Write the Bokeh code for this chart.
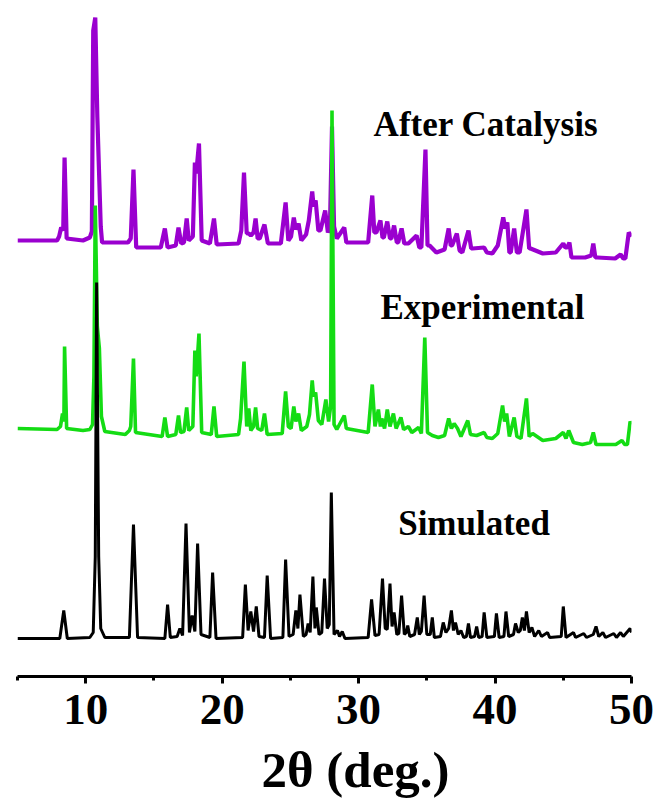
from bokeh.plotting import figure
from bokeh.models import Range1d, FixedTicker, Label, Title
from bokeh.embed import file_html
from bokeh.resources import INLINE

# ---- data (2theta in degrees, stacked intensity in a.u.) ----
sim_x = [5.0, 8.1, 8.39, 8.65, 10.3, 10.55, 10.7, 10.8, 10.95, 11.1, 11.4, 13.2, 13.5, 13.8,
         15.8, 16.0, 16.2, 16.7, 16.9, 17.1, 17.35, 17.6, 17.8, 18.0, 18.2, 18.45, 19.1, 19.3, 19.55,
         21.5, 21.7, 21.9, 22.1, 22.3, 22.5, 22.7, 23.1, 23.3, 23.55, 24.45, 24.65, 24.9,
         25.2, 25.4, 25.55, 25.7, 25.95, 26.15, 26.3, 26.45, 26.65, 26.8, 26.9, 27.1, 27.3, 27.5,
         27.7, 27.85, 28.0, 28.2, 28.45, 28.6, 28.8, 29.0, 30.7, 30.95, 31.2, 31.5, 31.75, 31.95,
         32.1, 32.3, 32.45, 32.6, 32.8, 32.95, 33.15, 33.35, 33.5, 33.6, 33.75, 34.1, 34.3, 34.45,
         34.6, 34.8, 35.0, 35.25, 35.4, 35.55, 36.0, 36.2, 36.4, 36.6, 36.8, 36.95, 37.1, 37.3,
         37.5, 37.7, 37.9, 38.05, 38.2, 38.5, 38.65, 38.8, 39.05, 39.2, 39.4, 39.95, 40.1, 40.3,
         40.65, 40.8, 41.0, 41.35, 41.5, 41.7, 41.85, 42.0, 42.15, 42.3, 42.5, 42.7, 42.9, 43.2,
         43.4, 43.85, 44.0, 44.85, 45.0, 45.2, 45.75, 45.9, 46.5, 46.7, 47.2, 47.4, 47.6, 47.9,
         48.1, 48.7, 48.9, 49.2, 49.4, 49.9, 50.0]
sim_y = [38, 38, 66, 38, 39, 44, 120, 394, 120, 48, 39, 39, 152, 39,
         38, 72, 39, 40, 48, 41, 153, 44, 61, 45, 133, 42, 39, 104, 38,
         39, 92, 46, 65, 45, 70, 40, 39, 101, 38, 39, 117, 40,
         42, 66, 48, 82, 40, 42, 53, 44, 100, 48, 69, 42, 44, 98,
         48, 52, 184, 42, 46, 40, 45, 38, 39, 77, 41, 42, 98, 48,
         47, 93, 50, 64, 42, 43, 81, 42, 44, 51, 40, 42, 59, 42,
         45, 81, 42, 42, 59, 39, 40, 54, 44, 48, 66, 46, 54, 42,
         46, 39, 40, 53, 39, 40, 50, 39, 40, 64, 39, 40, 63, 39,
         40, 65, 40, 42, 53, 44, 46, 59, 46, 65, 44, 49, 40, 46,
         40, 44, 39, 40, 70, 39, 44, 39, 43, 39, 42, 50, 40, 44,
         39, 43, 39, 44, 40, 48, 44]

exp_x = [5.0, 7.9, 8.15, 8.3, 8.4, 8.45, 8.6, 9.8, 10.3, 10.5, 10.6, 10.7, 10.85, 11.0, 11.15, 11.4,
         12.9, 13.2, 13.3, 13.5, 13.65, 15.6, 15.8, 16.0, 16.6, 16.8, 16.95, 17.2, 17.4, 17.55,
         17.85, 18.0, 18.1, 18.3, 18.5, 19.2, 19.4, 19.6, 21.2, 21.35, 21.6, 21.8, 21.95, 22.1,
         22.3, 22.45, 22.6, 22.9, 23.1, 23.3, 24.4, 24.65, 24.85, 25.05, 25.25, 25.4, 25.6, 25.8,
         26.2, 26.4, 26.6, 26.7, 26.85, 27.05, 27.3, 27.6, 27.8, 27.95, 28.05, 28.2, 28.4, 28.95,
         29.1, 30.7, 31.0, 31.2, 31.45, 31.6, 31.7, 31.9, 32.1, 32.3, 32.55, 32.75, 33.1, 33.3,
         33.65, 33.9, 34.4, 34.6, 34.85, 35.05, 35.4, 35.85, 36.3, 36.6, 36.8, 37.0, 37.25, 37.5,
         38.0, 38.2, 38.65, 39.2, 39.4, 39.8, 40.2, 40.55, 40.7, 40.85, 41.05, 41.4, 41.6, 41.9,
         42.3, 42.5, 42.75, 43.5, 44.45, 45.0, 45.2, 45.4, 45.75, 46.4, 47.0, 47.2, 47.4, 48.85,
         49.3, 49.5, 49.7, 49.9, 50.0]
exp_y = [248, 247, 250, 263, 255, 330, 248, 246, 247, 252, 300, 471, 350, 328, 260, 245,
         242, 246, 250, 318, 244, 240, 259, 240, 242, 261, 244, 245, 269, 246,
         250, 326, 300, 343, 244, 242, 270, 240, 242, 258, 315, 250, 268, 246,
         250, 269, 248, 246, 263, 242, 243, 285, 250, 248, 270, 255, 263, 246,
         250, 262, 296, 280, 284, 256, 252, 277, 255, 270, 566, 252, 247, 261,
         248, 244, 292, 250, 267, 250, 258, 248, 267, 250, 263, 248, 259, 247,
         250, 244, 249, 243, 339, 244, 241, 239, 241, 258, 248, 253, 248, 240,
         256, 242, 241, 244, 239, 238, 243, 271, 255, 263, 240, 259, 240, 238,
         278, 240, 243, 236, 238, 244, 238, 246, 234, 232, 234, 244, 232, 232,
         236, 232, 232, 255, 252]

aft_x = [5.0, 7.9, 8.05, 8.2, 8.35, 8.45, 8.6, 9.8, 10.3, 10.45, 10.55, 10.7, 10.85, 10.95, 11.1, 11.2,
         13.1, 13.3, 13.5, 13.7, 15.5, 15.8, 16.0, 16.6, 16.8, 17.0, 17.2, 17.4, 17.55, 17.85,
         18.0, 18.1, 18.3, 18.5, 19.1, 19.4, 19.6, 21.2, 21.4, 21.6, 21.8, 21.95, 22.1, 22.3,
         22.45, 22.6, 22.75, 23.1, 23.35, 24.3, 24.65, 24.85, 25.05, 25.25, 25.4, 25.6, 25.8,
         26.15, 26.35, 26.6, 26.7, 26.85, 27.05, 27.2, 27.55, 27.75, 27.9, 28.05, 28.2, 28.4,
         28.95, 29.1, 30.7, 31.0, 31.15, 31.3, 31.6, 31.75, 31.85, 32.1, 32.3, 32.4, 32.6, 32.8,
         32.9, 33.15, 33.35, 33.65, 34.25, 34.45, 34.6, 34.9, 35.05, 35.2, 35.7, 36.3, 36.6, 36.75,
         36.85, 37.2, 37.4, 37.6, 38.05, 38.25, 38.35, 39.2, 39.4, 39.8, 40.2, 40.6, 40.75, 40.9,
         41.05, 41.15, 41.4, 41.6, 41.8, 42.3, 42.5, 42.6, 43.5, 44.45, 45.0, 45.15, 45.3, 45.45,
         45.6, 45.75, 46.6, 47.05, 47.2, 47.35, 47.5, 48.8, 49.2, 49.4, 49.55, 49.8, 50.0]
aft_y = [436, 436, 440, 449, 446, 519, 438, 436, 439, 445, 646, 659, 560, 516, 450, 434,
         434, 438, 507, 429, 429, 448, 429, 431, 449, 433, 434, 458, 436, 440,
         514, 503, 533, 436, 433, 458, 432, 433, 446, 504, 443, 443, 441, 444,
         458, 438, 438, 452, 433, 433, 474, 436, 440, 459, 447, 453, 436,
         442, 456, 485, 470, 476, 446, 446, 466, 444, 450, 550, 450, 438,
         449, 434, 434, 481, 444, 444, 456, 439, 439, 455, 438, 438, 451, 434,
         434, 448, 433, 433, 441, 429, 429, 527, 431, 431, 424, 427, 448, 431,
         431, 443, 426, 424, 446, 428, 428, 429, 424, 423, 431, 459, 448, 454,
         424, 424, 448, 424, 424, 467, 428, 428, 423, 424, 433, 429, 429, 434,
         419, 419, 419, 421, 433, 419, 419, 418, 422, 418, 418, 444, 440]

series_names = ["After Catalysis", "Experimental", "Simulated"]
name_x = [31.1, 31.6, 32.9]
name_y = [552, 369, 153]
x_ticks = [10, 20, 30, 40, 50]
x_title = "2θ (deg.)"

SERIF = "Liberation Serif"

p = figure(frame_width=614, frame_height=668, output_backend="svg", toolbar_location=None,
           x_range=Range1d(5, 50), y_range=Range1d(0, 668),
           min_border_left=17, min_border_right=27, min_border_top=8, min_border_bottom=0,
           y_axis_location=None)
p.outline_line_color = None
p.xgrid.visible = False
p.ygrid.visible = False
p.background_fill_color = "white"
p.border_fill_color = "white"

p.line(aft_x, aft_y, line_color="#9A00CF", line_width=4.2)
p.line(exp_x, exp_y, line_color="#14DC14", line_width=3.6)
p.line(sim_x, sim_y, line_color="black", line_width=3)

for nm, nx, ny in zip(series_names, name_x, name_y):
    p.add_layout(Label(x=nx, y=ny, text=nm, text_font=SERIF, text_font_style="bold",
                       text_font_size="35px", text_color="black",
                       text_align="left", text_baseline="alphabetic"))

# x-axis title, shifted right as in the reference
p.add_layout(Title(text=x_title, align="left", offset=244, standoff=26,
                   text_font=SERIF, text_font_style="bold", text_font_size="51px",
                   text_color="black"), "below")

ax = p.xaxis[0]
ax.ticker = FixedTicker(ticks=x_ticks, minor_ticks=[5, 15, 25, 35, 45])
ax.axis_line_width = 3
ax.axis_line_color = "black"
ax.major_tick_line_width = 3
ax.minor_tick_line_width = 3
ax.major_tick_out = 7
ax.major_tick_in = 0
ax.minor_tick_out = 4
ax.minor_tick_in = 0
ax.major_label_text_font = SERIF
ax.major_label_text_font_style = "bold"
ax.major_label_text_font_size = "45px"
ax.major_label_text_color = "black"
ax.major_label_standoff = 11

open("out.html", "w").write(file_html(p, INLINE))
